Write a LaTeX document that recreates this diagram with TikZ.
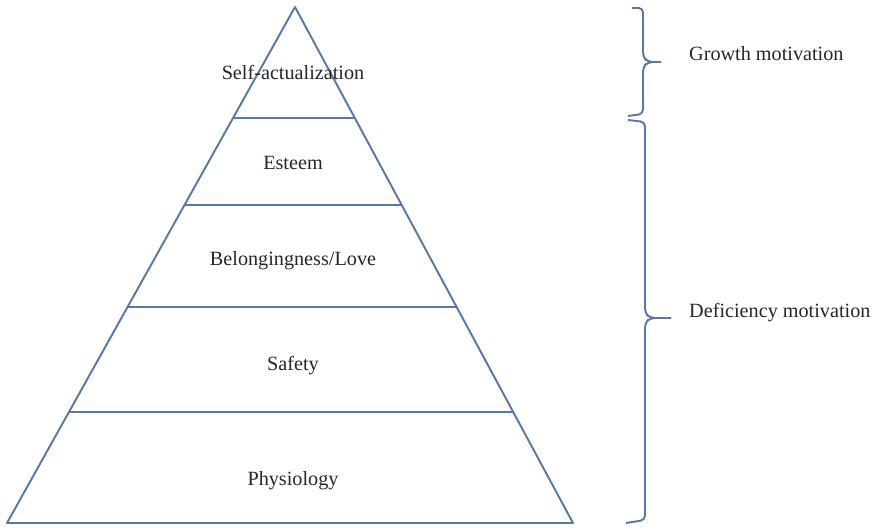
\documentclass[tikz,border=0pt]{standalone}
\usepackage{fontspec}
\setmainfont{Liberation Serif}
\usetikzlibrary{calc}
\definecolor{pyrblue}{RGB}{88,120,168}
\begin{document}
\begin{tikzpicture}[x=0.02cm,y=-0.02cm,
  level/.style={font=\fontsize{11.5}{14}\selectfont, text=black!85},
  edge/.style={draw=pyrblue, line width=1.1pt},
  curly/.style={edge, rounded corners=2.5pt, line join=round}]
\useasboundingbox (0,0) rectangle (874,530);
\coordinate (top) at (295,7);
\coordinate (bl) at (7,523);
\coordinate (br) at (573,523);
\draw[edge, line join=round] (top) -- (bl) -- (br) -- cycle;
% dividers between the levels
\foreach \t in {0.215,0.384,0.581,0.785}{
  \draw[edge] ($(top)!\t!(bl)$) -- ($(top)!\t!(br)$);
}
\node[level] (selfact) at (293,72) {Self-actualization};
\node[level] (esteem) at (293,163) {Esteem};
\node[level] (belong) at (293,261) {Belongingness/Love};
\node[level] (safety) at (293,366) {Safety};
\node[level] (physio) at (293,481) {Physiology};
% braces on the right
\coordinate (gtip) at (661,62);
\coordinate (dtip) at (671,318);
\draw[curly] (632,8) -- (643,8) -- (643,57) -- (648,62) -- (gtip);
\draw[curly] (gtip) -- (648,62) -- (643,67) -- (643,114) -- (628,116);
\draw[curly] (628,120) -- (645,122) -- (645,313) -- (650,318) -- (dtip);
\draw[curly] (dtip) -- (650,318) -- (645,323) -- (645,520) -- (626,523);
\node[level, anchor=west] (growth) at (683,54) {Growth motivation};
\node[level, anchor=west] (deficiency) at (683,313) {Deficiency motivation};
\end{tikzpicture}
\end{document}
